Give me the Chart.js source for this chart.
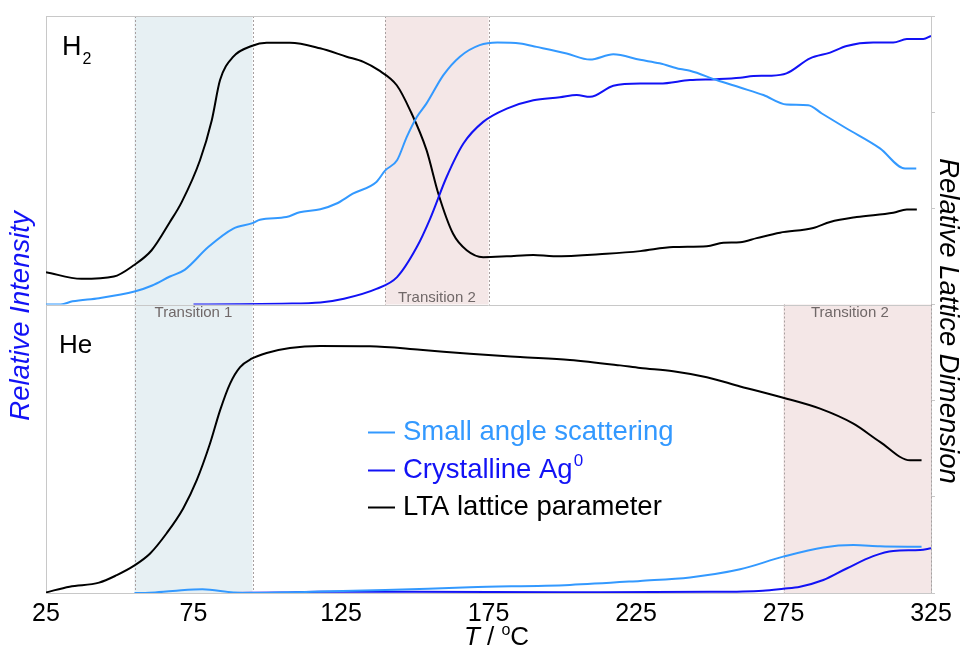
<!DOCTYPE html>
<html>
<head>
<meta charset="utf-8">
<script src="https://cdn.jsdelivr.net/npm/chart.js@4.4.1/dist/chart.umd.min.js"></script>
<style>
  html, body { margin: 0; padding: 0; background: #fff; }
  #wrap { width: 961px; height: 648px; }
</style>
</head>
<body>
<div id="wrap"><canvas id="chart" width="961" height="648"></canvas></div>
<script>
// temperature axis (deg C)
const tMin = 25, tMax = 325;
const tTicks = [25, 75, 125, 175, 225, 275, 325];

// H2 atmosphere
const h2SasT = [25, 30, 34, 43, 55, 61, 67, 72, 80, 88.5, 95, 97.5, 106.5, 111, 118, 123.5, 129, 137, 140, 144, 147.3, 150.7, 154, 159.7, 165.3, 172, 178, 185.7, 191.3, 201.5, 209.4, 217.3, 226.4, 233, 240, 243.3, 252.3, 260.3, 268.2, 276, 283.4, 288, 296.4, 307.7, 316.2, 320];
const h2SasV = [0, 0, 0.011, 0.022, 0.045, 0.066, 0.097, 0.12, 0.199, 0.263, 0.282, 0.294, 0.303, 0.32, 0.33, 0.35, 0.384, 0.425, 0.465, 0.5, 0.581, 0.65, 0.697, 0.795, 0.859, 0.899, 0.908, 0.905, 0.893, 0.87, 0.849, 0.867, 0.848, 0.836, 0.816, 0.81, 0.778, 0.752, 0.726, 0.693, 0.691, 0.662, 0.61, 0.541, 0.471, 0.471];

const h2AgT = [75, 90, 105, 118, 126, 137, 144, 150.7, 155.2, 160.8, 166.5, 173.2, 181.2, 190.2, 199.2, 204.9, 209.4, 217.3, 226.4, 233, 243.3, 252.3, 260.3, 264.8, 270.4, 276, 284, 290.8, 296.4, 305.4, 312.2, 316.8, 322.4, 325];
const h2AgV = [0, 0.001, 0.003, 0.007, 0.02, 0.054, 0.095, 0.199, 0.297, 0.442, 0.558, 0.633, 0.679, 0.708, 0.718, 0.726, 0.72, 0.758, 0.766, 0.766, 0.778, 0.781, 0.786, 0.792, 0.793, 0.801, 0.853, 0.873, 0.896, 0.908, 0.908, 0.92, 0.92, 0.931];

const h2LtaT = [25, 37, 48, 54.6, 60.8, 67, 71, 77.2, 81.2, 84, 88.5, 94.7, 99.8, 107.7, 117.9, 126.9, 132.6, 137.6, 143.9, 148.4, 154, 158, 163, 167.6, 173.2, 181.2, 190.2, 197, 215, 226.4, 237.6, 249, 254.6, 260.3, 265.9, 273.8, 285.1, 290.8, 299.8, 312.2, 316.8, 320.2];
const h2LtaV = [0.112, 0.089, 0.097, 0.135, 0.188, 0.286, 0.355, 0.5, 0.639, 0.778, 0.859, 0.896, 0.907, 0.907, 0.888, 0.859, 0.841, 0.813, 0.76, 0.674, 0.535, 0.384, 0.245, 0.188, 0.164, 0.167, 0.172, 0.167, 0.176, 0.185, 0.199, 0.202, 0.214, 0.216, 0.23, 0.249, 0.265, 0.286, 0.303, 0.318, 0.329, 0.329];

// He atmosphere
const heSasT = [55, 60, 68, 78, 88.5, 95, 105, 118, 140, 168.7, 202.6, 226.4, 243.3, 260.3, 274.9, 288.5, 298.7, 307.7, 321.8];
const heSasV = [0, 0.001, 0.007, 0.013, 0.002, 0, 0.002, 0.005, 0.01, 0.02, 0.028, 0.042, 0.054, 0.082, 0.126, 0.158, 0.166, 0.162, 0.16];

const heAgT = [88, 105, 118, 150, 200, 250, 268, 274.9, 280.6, 288.5, 296.4, 305.4, 312.2, 321.3, 325];
const heAgV = [0, 0.002, 0.004, 0.004, 0.003, 0.004, 0.008, 0.015, 0.022, 0.045, 0.085, 0.128, 0.146, 0.149, 0.155];

const heLtaT = [25, 33, 43, 49, 54.6, 60.3, 65.9, 71.5, 76.1, 80.6, 84, 87.4, 90.8, 94.7, 99.8, 107.7, 117.9, 134.8, 151.8, 168.7, 185.7, 202.6, 219.6, 226.4, 237.6, 249, 260.3, 274.9, 287.4, 298.7, 307.7, 317.9, 321.8];
const heLtaV = [0.002, 0.022, 0.036, 0.062, 0.093, 0.137, 0.207, 0.293, 0.391, 0.518, 0.633, 0.726, 0.783, 0.812, 0.832, 0.849, 0.856, 0.855, 0.843, 0.829, 0.818, 0.808, 0.789, 0.78, 0.769, 0.748, 0.716, 0.677, 0.639, 0.587, 0.524, 0.46, 0.46];

// transition windows
const bandFrom  = [55, 140, 275];
const bandTo    = [95, 175, 325];
const bandPanel = ['both', 'H2', 'He'];
const bandText  = ['Transition 1', 'Transition 2', 'Transition 2'];
const bandTextT = [75, 157.5, 297.5];

const seriesNames = ['Small angle scattering', 'Crystalline Ag', 'LTA lattice parameter'];

const FONT = '"Liberation Sans", Arial, Helvetica, sans-serif';
const C_SAS = '#3399ff';
const C_AG = '#1212f5';
const C_LTA = '#000000';
const GRID = '#c8c8c8';

const pts = (ts, vs) => ts.map((t, i) => ({x: t, y: vs[i]}));

function line(label, ts, vs, color, axis) {
  return {
    label: label,
    data: pts(ts, vs),
    yAxisID: axis,
    borderColor: color,
    borderWidth: 2,
    pointRadius: 0,
    cubicInterpolationMode: 'monotone',
    fill: false
  };
}

const datasets = [
  line(seriesNames[0], h2SasT, h2SasV, C_SAS, 'yTop'),
  line(seriesNames[1], h2AgT, h2AgV, C_AG, 'yTop'),
  line(seriesNames[2], h2LtaT, h2LtaV, C_LTA, 'yTop'),
  line(seriesNames[0], heSasT, heSasV, C_SAS, 'yBot'),
  line(seriesNames[1], heAgT, heAgV, C_AG, 'yBot'),
  line(seriesNames[2], heLtaT, heLtaV, C_LTA, 'yBot')
];

const zeroWidth = s => { s.width = 0; };

function leftAxis(weight) {
  return {
    type: 'linear', position: 'left', stack: 'left', stackWeight: 1, weight: weight,
    min: 0, max: 1,
    ticks: {display: false},
    grid: {display: false, drawTicks: false},
    border: {color: GRID},
    afterFit: zeroWidth
  };
}

function rightAxis(weight) {
  return {
    type: 'linear', position: 'right', stack: 'right', stackWeight: 1, weight: weight,
    min: 0, max: 3,
    ticks: {display: false, stepSize: 1},
    grid: {display: true, drawOnChartArea: false, drawTicks: true, tickLength: 4, color: GRID},
    border: {color: GRID},
    afterFit: zeroWidth
  };
}

// shaded windows, frame lines and all text
const decor = {
  id: 'decor',
  beforeDatasetsDraw(chart) {
    const {ctx, chartArea: a, scales} = chart;
    const {x, yTop, yBot} = scales;
    ctx.save();
    for (let i = 0; i < bandFrom.length; i++) {
      const x0 = x.getPixelForValue(bandFrom[i]);
      const x1 = x.getPixelForValue(bandTo[i]);
      let top, bottom;
      if (bandPanel[i] === 'both') { top = yTop.top; bottom = yBot.bottom; }
      else { const s = bandPanel[i] === 'H2' ? yTop : yBot; top = s.top; bottom = s.bottom; }
      ctx.fillStyle = i === 0 ? '#e7f0f3' : '#f4e7e7';
      ctx.fillRect(x0, top, x1 - x0, bottom - top);
      ctx.strokeStyle = '#a8a0a0';
      ctx.lineWidth = 1;
      ctx.setLineDash([2, 2]);
      [x0, x1].forEach(px => {
        ctx.beginPath();
        ctx.moveTo(Math.round(px) + 0.5, top);
        ctx.lineTo(Math.round(px) + 0.5, bottom);
        ctx.stroke();
      });
      ctx.setLineDash([]);
    }
    ctx.strokeStyle = GRID;
    ctx.lineWidth = 1;
    [yTop.top, yTop.bottom].forEach(py => {
      ctx.beginPath();
      ctx.moveTo(a.left, Math.round(py) + 0.5);
      ctx.lineTo(a.right, Math.round(py) + 0.5);
      ctx.stroke();
    });
    ctx.restore();
  },
  afterDraw(chart) {
    const {ctx, scales} = chart;
    const {x, yTop, yBot} = scales;
    ctx.save();

    // transition labels
    ctx.font = '15px ' + FONT;
    ctx.fillStyle = '#706868';
    ctx.textAlign = 'center';
    ctx.textBaseline = 'middle';
    for (let i = 0; i < bandText.length; i++) {
      const py = bandPanel[i] === 'H2' ? yTop.bottom - 7 : yBot.top + 8;
      ctx.fillText(bandText[i], x.getPixelForValue(bandTextT[i]), py);
    }

    // panel names
    ctx.fillStyle = '#000';
    ctx.textAlign = 'left';
    ctx.textBaseline = 'alphabetic';
    ctx.font = '27px ' + FONT;
    ctx.fillText('H', 62, 55);
    const hw = ctx.measureText('H').width;
    ctx.font = '16px ' + FONT;
    ctx.fillText('2', 62 + hw + 1, 64);
    ctx.font = '26px ' + FONT;
    ctx.fillText('He', 59, 353);

    // legend
    const rows = [432, 470, 507];
    const cols = [C_SAS, C_AG, C_LTA];
    ctx.textBaseline = 'middle';
    rows.forEach((ry, i) => {
      ctx.strokeStyle = cols[i];
      ctx.lineWidth = 2;
      ctx.beginPath();
      ctx.moveTo(368, ry + 0.5);
      ctx.lineTo(395, ry + 0.5);
      ctx.stroke();
      ctx.fillStyle = cols[i];
      ctx.font = '27.5px ' + FONT;
      ctx.fillText(seriesNames[i], 403, ry);
      if (i === 1) {
        const w = ctx.measureText(seriesNames[i]).width;
        ctx.font = '17px ' + FONT;
        ctx.fillText('0', 403 + w + 1, ry - 9);
      }
    });

    // x title: T / oC
    ctx.fillStyle = '#000';
    ctx.textBaseline = 'alphabetic';
    const parts = [
      {t: 'T', f: 'italic 26px ' + FONT, dy: 0},
      {t: ' / ', f: '26px ' + FONT, dy: 0},
      {t: 'o', f: '16px ' + FONT, dy: -10},
      {t: 'C', f: '26px ' + FONT, dy: 0}
    ];
    let total = 0;
    parts.forEach(p => { ctx.font = p.f; p.w = ctx.measureText(p.t).width; total += p.w; });
    let cx = x.getPixelForValue(175) + 8 - total / 2;
    parts.forEach(p => { ctx.font = p.f; ctx.fillText(p.t, cx, 645 + p.dy); cx += p.w; });

    // y titles
    ctx.textAlign = 'center';
    ctx.textBaseline = 'middle';
    ctx.font = 'italic 27.5px ' + FONT;
    ctx.save();
    ctx.translate(21, 316);
    ctx.rotate(-Math.PI / 2);
    ctx.fillStyle = C_AG;
    ctx.fillText('Relative Intensity', 0, 0);
    ctx.restore();
    ctx.save();
    ctx.translate(948, 321);
    ctx.rotate(Math.PI / 2);
    ctx.fillStyle = '#000';
    ctx.fillText('Relative Lattice Dimension', 0, 0);
    ctx.restore();

    ctx.restore();
  }
};

new Chart(document.getElementById('chart'), {
  type: 'line',
  data: {datasets: datasets},
  options: {
    responsive: false,
    animation: false,
    layout: {padding: {left: 46, right: 30, top: 16, bottom: 0}},
    plugins: {legend: {display: false}, tooltip: {enabled: false}},
    scales: {
      x: {
        type: 'linear', min: tMin, max: tMax,
        afterBuildTicks: s => { s.ticks = tTicks.map(v => ({value: v})); },
        ticks: {font: {size: 25, family: FONT}, color: '#000', padding: 6, maxRotation: 0, autoSkip: false},
        grid: {display: false, drawTicks: false},
        border: {color: GRID},
        afterFit: s => { s.height = 55; }
      },
      yTop: leftAxis(2),
      yBot: leftAxis(1),
      yTopR: rightAxis(1),
      yBotR: rightAxis(2)
    }
  },
  plugins: [decor]
});
</script>
</body>
</html>
